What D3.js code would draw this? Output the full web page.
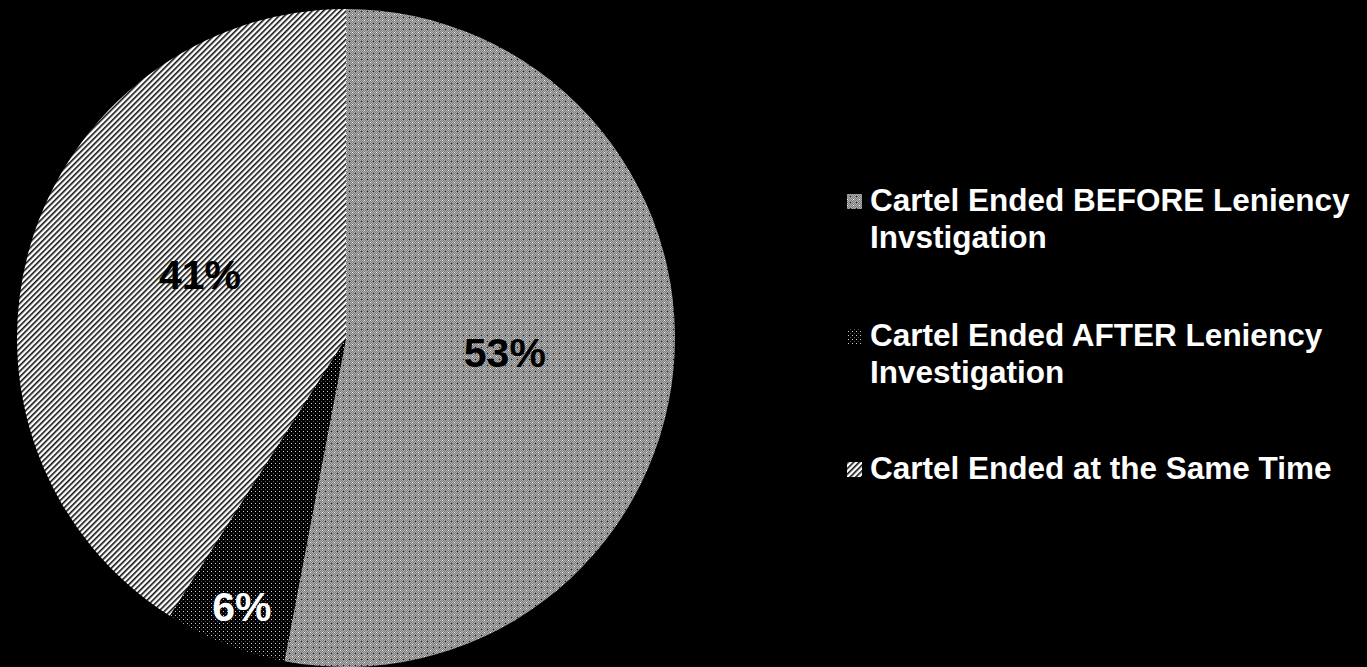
<!DOCTYPE html>
<html lang="en">
<head>
    <meta charset="utf-8">
    <title>Cartel end timing pie</title>
    <script src="https://d3js.org/d3.v7.min.js"></script>
    <style type="text/css">
        body { margin: 0; background: #000; }
        svg { display: block; }
    </style>
</head>
<body>
    <script type="text/javascript">

        // data
        var labels = ["Cartel Ended BEFORE Leniency Invstigation",
            "Cartel Ended AFTER Leniency Investigation",
            "Cartel Ended at the Same Time"];
        var legendLines = [["Cartel Ended BEFORE Leniency", "Invstigation"],
            ["Cartel Ended AFTER Leniency", "Investigation"],
            ["Cartel Ended at the Same Time"]];
        var values = [53, 6, 41];
        var pctText = ["53%", "6%", "41%"];

        var w = 1367, h = 667;
        var cx = 346, cy = 338, r = 329;

        var svg = d3.select("body").append("svg")
            .attr("width", w)
            .attr("height", h);

        svg.append("rect").attr("width", w).attr("height", h).attr("fill", "#000");

        var defs = svg.append("defs");

        // gray checkered pattern
        var p0 = defs.append("pattern").attr("id", "pat0")
            .attr("patternUnits", "userSpaceOnUse").attr("width", 6).attr("height", 6);
        p0.append("rect").attr("width", 6).attr("height", 6).attr("fill", "#7a7a7a");
        [[0, 0], [2, 0], [4, 0], [1, 1], [3, 1], [5, 1], [0, 2], [2, 2], [4, 2], [1, 3], [3, 3], [5, 3], [0, 4], [2, 4], [4, 4], [1, 5], [3, 5], [5, 5]].forEach(function (c) {
            p0.append("rect").attr("x", c[0]).attr("y", c[1]).attr("width", 1).attr("height", 1).attr("fill", "#b0b0b0");
        });
        p0.append("rect").attr("x", 0).attr("y", 0).attr("width", 1).attr("height", 1).attr("fill", "#fff");
        p0.append("rect").attr("x", 3).attr("y", 3).attr("width", 1).attr("height", 1).attr("fill", "#1a1a1a");

        // black with white dots
        var p1 = defs.append("pattern").attr("id", "pat1")
            .attr("patternUnits", "userSpaceOnUse").attr("width", 4).attr("height", 4);
        p1.append("rect").attr("width", 4).attr("height", 4).attr("fill", "#000");
        p1.append("rect").attr("x", 1).attr("y", 1).attr("width", 1).attr("height", 1).attr("fill", "#d0d0d0");
        p1.append("rect").attr("x", 3).attr("y", 3).attr("width", 1).attr("height", 1).attr("fill", "#555");

        // white/black diagonal stripes
        var p2 = defs.append("pattern").attr("id", "pat2")
            .attr("patternUnits", "userSpaceOnUse").attr("width", 4).attr("height", 4)
            .attr("patternTransform", "rotate(45)");
        p2.append("rect").attr("width", 4).attr("height", 4).attr("fill", "#fff");
        p2.append("rect").attr("x", 0).attr("y", 0).attr("width", 1.6).attr("height", 4).attr("fill", "#111");

        var fills = ["url(#pat0)", "url(#pat1)", "url(#pat2)"];
        var textColors = ["#000", "#fff", "#000"];

        var pie = d3.pie().sort(null).value(function (d) { return d; });
        var arc = d3.arc().innerRadius(0).outerRadius(r);
        var arcs = pie(values);

        var g = svg.append("g").attr("transform", "translate(" + cx + "," + cy + ")");

        g.selectAll("path")
            .data(arcs)
            .enter()
            .append("path")
            .attr("d", arc)
            .attr("fill", function (d, i) { return fills[i]; });

        // label placement: radius factor along bisector + small vertical nudge
        var labelR = [0.485, 0.86, 0.462];
        var labelDy = [14, 20, -7];
        g.selectAll("text.pct")
            .data(arcs)
            .enter()
            .append("text")
            .attr("class", "pct")
            .text(function (d, i) { return pctText[i]; })
            .attr("text-anchor", "middle")
            .attr("x", function (d, i) {
                var a = (d.startAngle + d.endAngle) / 2;
                return Math.sin(a) * r * labelR[i];
            })
            .attr("y", function (d, i) {
                var a = (d.startAngle + d.endAngle) / 2;
                return -Math.cos(a) * r * labelR[i] + labelDy[i];
            })
            .attr("font-family", "Liberation Sans, Arial, sans-serif")
            .attr("font-weight", "bold")
            .attr("font-size", "41px")
            .attr("fill", function (d, i) { return textColors[i]; });

        // legend
        var legendY = [211, 346, 479];
        var legend = svg.selectAll("g.legend")
            .data(labels)
            .enter()
            .append("g")
            .attr("class", "legend")
            .attr("transform", function (d, i) { return "translate(847," + legendY[i] + ")"; });

        legend.append("rect")
            .attr("x", 0)
            .attr("y", -17)
            .attr("width", 15)
            .attr("height", 15)
            .attr("fill", function (d, i) { return fills[i]; });

        legend.each(function (d, i) {
            var t = d3.select(this).append("text")
                .attr("font-family", "Liberation Sans, Arial, sans-serif")
                .attr("font-weight", "bold")
                .attr("font-size", "31.5px")
                .attr("fill", "#fff");
            legendLines[i].forEach(function (line, j) {
                t.append("tspan").attr("x", 23).attr("y", j * 37).text(line);
            });
        });

    </script>
</body>
</html>
